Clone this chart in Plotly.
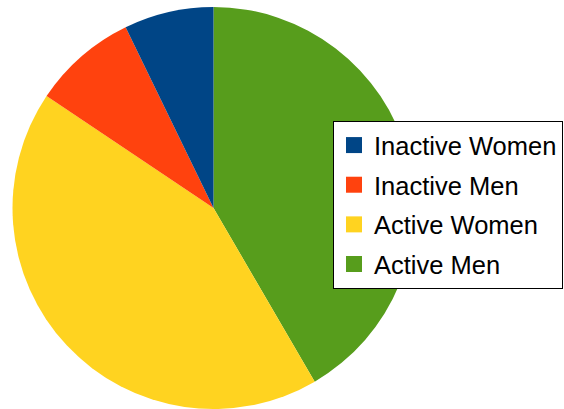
import plotly.graph_objects as go

labels = ["Inactive Women", "Inactive Men", "Active Women", "Active Men"]
values = [7.2, 8.4, 42.8, 41.6]
colors = ["#004586", "#ff420e", "#ffd320", "#579d1c"]

W, H = 564, 409
cx, cy, r = 213.5, 208, 201

fig = go.Figure()
# slices run clockwise from 12 o'clock starting with the last category
fig.add_trace(go.Pie(
    labels=labels[::-1], values=values[::-1], sort=False,
    direction="clockwise", rotation=0,
    marker=dict(colors=colors[::-1], line=dict(width=0)),
    textinfo="none", hoverinfo="label+percent", showlegend=False,
    domain=dict(x=[(cx - r) / W, (cx + r) / W], y=[(H - cy - r) / H, (H - cy + r) / H]),
))
for lab, col in zip(labels, colors):
    fig.add_trace(go.Scatter(
        x=[None], y=[None], mode="markers", name=lab, legendgroup=lab,
        marker=dict(symbol="square", size=16, color=col, line=dict(width=0)),
    ))

fig.update_layout(
    width=W, height=H,
    margin=dict(l=0, r=0, t=0, b=0),
    paper_bgcolor="white", plot_bgcolor="white",
    xaxis=dict(visible=False), yaxis=dict(visible=False),
    legend=dict(
        x=563 / W, xanchor="right", y=1 - 121 / H, yanchor="top",
        font=dict(family="Liberation Sans, Arial, sans-serif", size=25.5, color="black"),
        bordercolor="black", borderwidth=1, bgcolor="white",
        tracegroupgap=3.5, traceorder="grouped", itemwidth=30,
    ),
)
fig.write_html("out.html", config={"displayModeBar": False},
               post_script="document.body.style.margin='0';")
